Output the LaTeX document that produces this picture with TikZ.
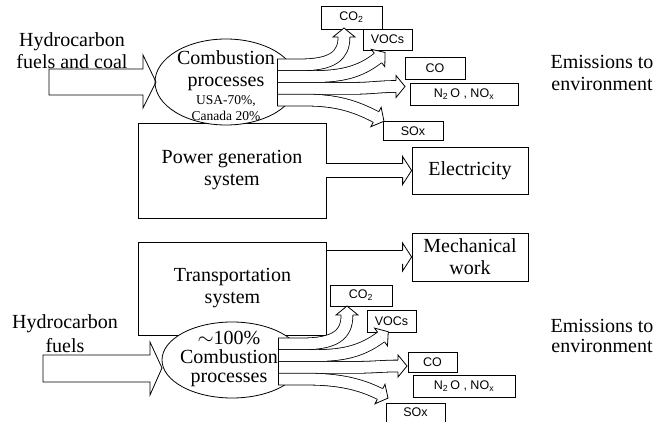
\documentclass[tikz,border=0pt]{standalone}
\usepackage{fontspec}
\setmainfont{Liberation Serif}
\setsansfont{Liberation Sans}
\usepackage{tikz}
\usetikzlibrary{shapes.geometric}

\begin{document}
\begin{tikzpicture}[
    x=1pt, y=-1pt,
    line width=0.8pt,
    txt/.style={align=center, inner sep=0pt, font=\fontsize{20}{22}\selectfont},
    sysbox/.style={txt, draw, minimum width=188pt, minimum height=95pt},
    outbox/.style={txt, draw, minimum width=116pt, minimum height=47pt},
    proc/.style={draw, fill=white, ellipse, inner sep=0pt},
    gas/.style={draw, fill=white, inner sep=0pt, minimum height=22pt,
        font=\sffamily\fontsize{12.5}{14}\selectfont},
    strip/.style={double, double distance=11pt},
    flow/.style={double, double distance=13pt, shorten >=9pt},
    emithead/.pic={\filldraw[fill=white] (0,5.9) -- (0,11) -- (9,0) -- (0,-11) -- (0,-5.9);},
    flowhead/.pic={\filldraw[fill=white] (0,6.9) -- (0,14) -- (9,0) -- (0,-14) -- (0,-6.9);}
]
\useasboundingbox (0,0) rectangle (669,422);

% systems
\node[sysbox] (power) at (232,170.5) {Power generation\\system};
\node[sysbox, minimum height=93pt] (trans) at (232.5,288.5) {Transportation\\system};

% combustion
\node[proc, minimum width=142pt, minimum height=86pt] (comb1) at (226,82) {};
\node[txt] (comb1txt) at (226,71) {Combustion\\processes};
\node[txt, font=\fontsize{13.5}{16}\selectfont] (share1) at (226,108) {USA-70\%,\\Canada 20\%};

\node[proc, minimum width=140pt, minimum height=76pt] (comb2) at (232,360) {};
\node[txt, font=\fontsize{20}{19}\selectfont] (comb2txt) at (229,359) {$\sim$100\%\\Combustion\\processes};

% fuel input
\node[txt] (fuel1) at (72,51) {Hydrocarbon\\fuels and coal};
\node[txt, font=\fontsize{20}{24}\selectfont] (fuel2) at (65,334) {Hydrocarbon\\fuels};
\coordinate (in1) at (49,69);
\coordinate (in2) at (43,355);
\draw (in1) -- ++(94,0) -- ++(0,-14) -- ++(13,27) -- ++(-13,26) -- ++(0,-13) -- ++(-94,0) -- cycle;
\draw (in2) -- ++(107,0) -- ++(0,-13) -- ++(12,26) -- ++(-12,27) -- ++(0,-13) -- ++(-107,0) -- cycle;

% useful outputs
\node[outbox] (elec) at (470,170.5) {Electricity};
\node[outbox, minimum height=48pt] (mech) at (470,257) {Mechanical\\work};
\draw[flow] (power.east) -- (power.east -| elec.west);
\pic at ([xshift=-9pt]elec.west) {flowhead};
\draw[flow] (trans.east |- mech.west) -- (mech.west);
\pic at ([xshift=-9pt]mech.west) {flowhead};

% emissions, top
\node[gas, minimum width=61pt, minimum height=23pt] (co2a) at (351.5,17.5) {CO\textsubscript{2}};
\node[gas, minimum width=49pt, minimum height=21pt] (voca) at (387.5,39.5) {VOCs};
\node[gas, minimum width=60pt] (coa) at (435,68) {CO};
\node[gas, minimum width=108pt] (noxa) at (464,94) {N\textsubscript{2}\,O , NO\textsubscript{x}};
\node[gas, minimum width=60pt, minimum height=19pt] (soxa) at (413,131) {SOx};

\foreach \i/\y in {1/64.9, 2/76.6, 3/88.4, 4/100.1}
    \coordinate (ta\i) at (277,\y);
\coordinate (ha1) at (344,37);
\coordinate (ha2) at (378,58);
\coordinate (ha3) at (396,86.5);
\coordinate (ha4) at (376,117);

\draw[strip] (ta1) -- ++(23,0) .. controls +(32,0) and +(0,19) .. (ha1);
\draw[strip] (ta2) -- ++(35,0) .. controls +(30,0) and +(-18,14) .. (ha2);
\draw[strip] (ta3) -- ++(73,0) .. controls +(22,0) and +(-18,0) .. (ha3);
\draw[strip] (ta4) -- ++(29,0) .. controls +(30,0) and +(-21,-11) .. (ha4);
\pic[rotate=90] at (ha1) {emithead};
\pic[rotate=38] at (ha2) {emithead};
\pic at (ha3) {emithead};
\pic[rotate=-28] at (ha4) {emithead};
\draw ([yshift=5.9pt]ta1) -- ([yshift=-5.9pt]ta4);

% emissions, bottom
\node[gas, minimum width=62pt, minimum height=21pt] (co2b) at (361,295.5) {CO\textsubscript{2}};
\node[gas, minimum width=49pt] (vocb) at (391.5,321) {VOCs};
\node[gas, minimum width=49pt, minimum height=20pt] (cob) at (432.5,362) {CO};
\node[gas, minimum width=102pt] (noxb) at (464,386) {N\textsubscript{2}\,O , NO\textsubscript{x}};
\node[gas, minimum width=59pt, minimum height=19pt] (soxb) at (415.5,412.5) {SOx};

\foreach \i/\y in {1/343.9, 2/355.6, 3/367.4, 4/379.1}
    \coordinate (tb\i) at (278,\y);
\coordinate (hb1) at (347,315);
\coordinate (hb2) at (381,337);
\coordinate (hb3) at (398,366);
\coordinate (hb4) at (380,394);

\draw[strip] (tb1) -- ++(24,0) .. controls +(33,0) and +(0,20) .. (hb1);
\draw[strip] (tb2) -- ++(36,0) .. controls +(30,0) and +(-19,14) .. (hb2);
\draw[strip] (tb3) -- ++(74,0) .. controls +(22,0) and +(-16,0) .. (hb3);
\draw[strip] (tb4) -- ++(28,0) .. controls +(30,0) and +(-22,-11) .. (hb4);
\pic[rotate=90] at (hb1) {emithead};
\pic[rotate=36] at (hb2) {emithead};
\pic at (hb3) {emithead};
\pic[rotate=-27] at (hb4) {emithead};
\draw ([yshift=5.9pt]tb1) -- ([yshift=-5.9pt]tb4);

\node[txt] (emit1) at (602,73) {Emissions to\\environment};
\node[txt, font=\fontsize{20}{20}\selectfont] (emit2) at (602,336) {Emissions to\\environment};

\end{tikzpicture}
\end{document}
